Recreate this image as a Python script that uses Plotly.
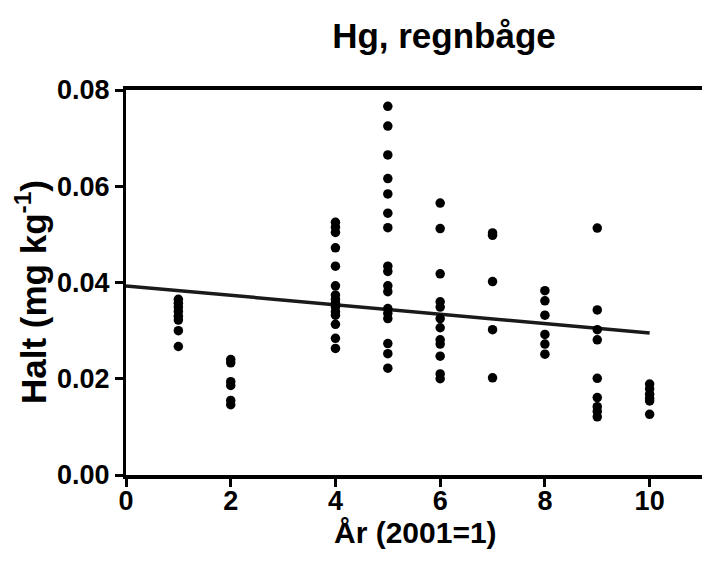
import plotly.graph_objects as go

# Data
years = [1, 2, 4, 5, 6, 7, 8, 9, 10]
hg_year1 = [0.0365, 0.0357, 0.0349, 0.034, 0.033, 0.0322, 0.030, 0.0267]
hg_year2 = [0.024, 0.0233, 0.0194, 0.0186, 0.0155, 0.0146]
hg_year4 = [0.0525, 0.0515, 0.0504, 0.0472, 0.0434, 0.0393, 0.0374, 0.0365,
            0.0357, 0.0349, 0.0339, 0.0332, 0.0313, 0.0284, 0.0263]
hg_year5 = [0.0766, 0.0725, 0.0665, 0.0616, 0.0584, 0.0544, 0.0514, 0.0434,
            0.0423, 0.0393, 0.0381, 0.0346, 0.0336, 0.0325, 0.0273, 0.0252, 0.0222]
hg_year6 = [0.0565, 0.0512, 0.0418, 0.036, 0.0349, 0.0325, 0.0306, 0.0281,
            0.0272, 0.0247, 0.021, 0.020]
hg_year7 = [0.0503, 0.0498, 0.0402, 0.0302, 0.0202]
hg_year8 = [0.0383, 0.0362, 0.0332, 0.0292, 0.0272, 0.0251]
hg_year9 = [0.0513, 0.0343, 0.0302, 0.0281, 0.0201, 0.0161, 0.0142, 0.0132, 0.0121]
hg_year10 = [0.0189, 0.0179, 0.0168, 0.0159, 0.0154, 0.0126]

# Trend line
trend_x = [0, 10]
trend_intercept = 0.0393
trend_slope = -0.00098

x_ticks = [0, 2, 4, 6, 8, 10]
y_ticks = [0.00, 0.02, 0.04, 0.06, 0.08]

title_text = "Hg, regnbåge"
x_title = "År (2001=1)"
y_title = "Halt (mg kg<sup>-1</sup>)"

groups = [hg_year1, hg_year2, hg_year4, hg_year5, hg_year6,
          hg_year7, hg_year8, hg_year9, hg_year10]
xs, ys = [], []
for yr, vals in zip(years, groups):
    xs += [yr] * len(vals)
    ys += vals

trend_y = [trend_intercept + trend_slope * x for x in trend_x]

font_family = "Liberation Sans, Arial, sans-serif"
W, H = 702, 564

fig = go.Figure()
fig.add_trace(go.Scatter(
    x=trend_x, y=trend_y, mode="lines",
    line=dict(color="#1a1a1a", width=3.5),
    showlegend=False, hoverinfo="skip"))
fig.add_trace(go.Scatter(
    x=xs, y=ys, mode="markers",
    marker=dict(color="black", size=9.5, symbol="circle"),
    showlegend=False))

fig.update_layout(
    width=W, height=H,
    margin=dict(l=126, r=0, t=90, b=89),
    paper_bgcolor="white", plot_bgcolor="white",
    font=dict(family=font_family, color="black", size=27, weight="bold"),
    title=dict(text=title_text, x=0.552, xref="paper", xanchor="center",
               y=1 - 36 / H, yref="container", yanchor="middle",
               font=dict(size=35, family=font_family, weight="bold")),
    xaxis=dict(range=[0, 11], tickvals=x_ticks, showgrid=False, zeroline=False,
               showline=True, linewidth=4, linecolor="black", mirror=True,
               ticks="outside", ticklen=8, tickwidth=3, tickcolor="black",
               ticklabelstandoff=-9,
               tickfont=dict(size=27, family=font_family, weight="bold")),
    yaxis=dict(range=[0, 0.08], tickvals=y_ticks, tickformat=".2f",
               showgrid=False, zeroline=False,
               showline=True, linewidth=3, linecolor="black",
               ticks="outside", ticklen=8, tickwidth=3, tickcolor="black",
               tickfont=dict(size=27, family=font_family, weight="bold")),
    annotations=[
        dict(text=x_title, xref="paper", yref="paper",
             x=(415 - 126) / 576, y=-(532 - 475) / 385,
             xanchor="center", yanchor="middle", showarrow=False,
             font=dict(size=30, family=font_family, weight="bold")),
        dict(text=y_title, xref="paper", yref="paper", textangle=-90,
             x=-(126 - 31) / 576, y=(475 - 292) / 385,
             xanchor="center", yanchor="middle", showarrow=False,
             font=dict(size=35, family=font_family, weight="bold")),
    ],
)

fig.write_html("out.html")
